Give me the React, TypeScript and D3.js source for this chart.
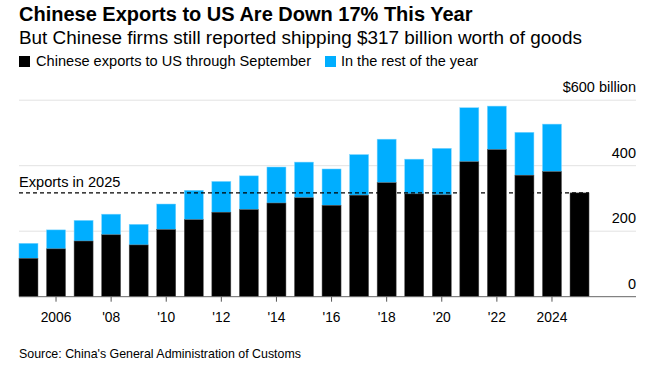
import * as d3 from "d3";

const years = [
  2005, 2006, 2007, 2008, 2009, 2010, 2011, 2012, 2013, 2014, 2015, 2016,
  2017, 2018, 2019, 2020, 2021, 2022, 2023, 2024, 2025,
];
// exports January through September, $bn
const throughSeptember = [
  117, 146, 170, 189, 158, 205, 235, 258, 266, 286, 302, 279, 310, 348, 314,
  311, 412, 449, 371, 382, 317,
];
// full-year totals, $bn (2025 not finished)
const fullYear = [
  163, 204, 233, 252, 221, 283, 325, 352, 369, 396, 411, 390, 434, 481, 420,
  453, 577, 582, 502, 527, 317,
];
const yTicks = [0, 200, 400, 600];
const xTickYears = [2006, 2008, 2010, 2012, 2014, 2016, 2018, 2020, 2022, 2024];
const exports2025 = 317;

const W = 653;
const H = 388;
const font = "'Liberation Sans', Arial, Helvetica, sans-serif";
const BLUE = "#00aeff";

export default function App() {
  const x = d3
    .scaleBand<number>()
    .domain(years)
    .range([14.7, 593.3])
    .paddingInner(0.31)
    .paddingOuter(0.155);
  const y = d3.scaleLinear().domain([0, 600]).range([296.7, 100.2]);

  const left = 19;
  const right = 636;

  const tickLabel = (yr: number) =>
    yr === 2006 || yr === 2024 ? String(yr) : "'" + String(yr).slice(2);

  return (
    <svg
      width={W}
      height={H}
      viewBox={`0 0 ${W} ${H}`}
      style={{ position: "absolute", left: 0, top: 0, background: "#fff" }}
      fontFamily={font}
    >
      <text x={left} y={21} fontSize={20} fontWeight="bold" fill="#000">
        Chinese Exports to US Are Down 17% This Year
      </text>
      <text x={left} y={44} fontSize={18.9} fill="#000">
        But Chinese firms still reported shipping $317 billion worth of goods
      </text>

      {/* legend */}
      <rect x={19} y={56} width={11} height={11} fill="#000" />
      <text x={36} y={66} fontSize={14.6} fill="#000">
        Chinese exports to US through September
      </text>
      <rect x={325} y={56} width={11} height={11} fill={BLUE} />
      <text x={341} y={66} fontSize={14.5} fill="#000">
        In the rest of the year
      </text>

      {/* gridlines */}
      {yTicks.map((t) => (
        <g key={t}>
          {t > 0 && (
            <line
              x1={left}
              x2={right}
              y1={y(t)}
              y2={y(t)}
              stroke="#e2e2e2"
              strokeWidth={1}
            />
          )}
          <text
            x={right}
            y={y(t) - 8}
            textAnchor="end"
            fontSize={14.5}
            fill="#000"
          >
            {t === 600 ? "$600 billion" : t}
          </text>
        </g>
      ))}

      {/* bars */}
      {years.map((yr, i) => (
        <g key={yr}>
          {fullYear[i] > throughSeptember[i] && (
            <rect
              x={x(yr)}
              y={y(fullYear[i])}
              width={x.bandwidth()}
              height={y(throughSeptember[i]) - y(fullYear[i])}
              fill={BLUE}
              stroke="#7fd6ff"
              strokeWidth={0.5}
            />
          )}
          <rect
            x={x(yr)}
            y={y(throughSeptember[i])}
            width={x.bandwidth()}
            height={y(0) - y(throughSeptember[i])}
            fill="#000"
            stroke="#555"
            strokeWidth={0.5}
          />
        </g>
      ))}

      {/* 2025 reference line */}
      <line
        x1={left}
        x2={(x(2025) ?? 0) + x.bandwidth()}
        y1={y(exports2025)}
        y2={y(exports2025)}
        stroke="#000"
        strokeWidth={1.3}
        strokeDasharray="4 3"
      />
      <text x={left} y={y(exports2025) - 6} fontSize={14.6} fill="#000">
        Exports in 2025
      </text>

      {/* x axis */}
      <line
        x1={left}
        x2={right}
        y1={y(0)}
        y2={y(0)}
        stroke="#666"
        strokeWidth={1}
      />
      {xTickYears.map((yr) => {
        const cx = (x(yr) ?? 0) + x.bandwidth() / 2;
        return (
          <g key={yr}>
            <line x1={cx} x2={cx} y1={y(0)} y2={y(0) + 5} stroke="#555" />
            <text
              x={cx}
              y={322}
              textAnchor="middle"
              fontSize={13.8}
              fill="#000"
            >
              {tickLabel(yr)}
            </text>
          </g>
        );
      })}

      <text x={left} y={358} fontSize={12.4} fill="#000">
        Source: China's General Administration of Customs
      </text>
    </svg>
  );
}
